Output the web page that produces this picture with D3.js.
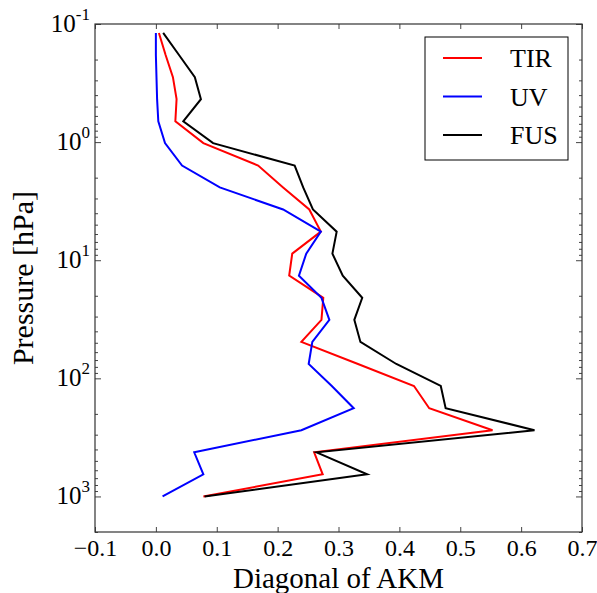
<!DOCTYPE html>
<html>
<head>
<meta charset="utf-8">
<script src="https://cdn.jsdelivr.net/npm/d3@7"></script>
<style>
  body { margin: 0; background: #fff; }
  svg text { font-family: "Liberation Serif", "Times New Roman", Times, serif; fill: #000; }
</style>
</head>
<body>
<div id="chart"></div>
<script>
// pressure levels [hPa], bottom to top
let pressure = [1000, 650, 423, 275, 179, 116, 75.6, 49.2, 32.0, 20.8, 13.5, 8.8, 5.73, 3.72, 2.42, 1.58, 1.02, 0.666, 0.433, 0.282, 0.183, 0.119];

let tir = [0.078, 0.274, 0.260, 0.553, 0.449, 0.424, 0.332, 0.239, 0.272, 0.275, 0.219, 0.224, 0.271, 0.252, 0.209, 0.168, 0.078, 0.032, 0.034, 0.028, 0.016, 0.005];
let uv  = [0.011, 0.078, 0.063, 0.239, 0.325, 0.289, 0.251, 0.257, 0.285, 0.272, 0.235, 0.247, 0.271, 0.209, 0.105, 0.043, 0.015, 0.004, 0.002, 0.001, 0.000, 0.000];
let fus = [0.080, 0.347, 0.264, 0.622, 0.476, 0.468, 0.395, 0.336, 0.326, 0.339, 0.307, 0.290, 0.297, 0.258, 0.242, 0.228, 0.094, 0.045, 0.074, 0.064, 0.038, 0.012];

let seriesNames = ["TIR", "UV", "FUS"];
let seriesColors = ["#ff0000", "#0000ff", "#000000"];

let xTicks = [-0.1, 0.0, 0.1, 0.2, 0.3, 0.4, 0.5, 0.6, 0.7];
let yMajor = [0.1, 1, 10, 100, 1000];

let serif = '"Liberation Serif", "Times New Roman", Times, serif';

let width = 597, height = 593;
let margin = {left: 95, top: 24, right: 15, bottom: 61};
let w = width - margin.left - margin.right;
let h = height - margin.top - margin.bottom;

let x = d3.scaleLinear().domain([-0.1, 0.7]).range([0, w]);
let y = d3.scaleLog().domain([0.1, 2000]).range([0, h]);

let svg = d3.select("#chart").append("svg")
  .attr("width", width)
  .attr("height", height);

let g = svg.append("g")
  .attr("transform", "translate(" + margin.left + "," + margin.top + ")");

// minor ticks on log axis
let minor = [];
for (let d = 0.1; d < 2000; d *= 10) {
  for (let m = 2; m <= 9; m++) {
    let v = d * m;
    if (v <= 2000) minor.push(v);
  }
}

// bottom axis
let xb = g.append("g")
  .attr("transform", "translate(0," + h + ")")
  .call(d3.axisBottom(x).tickValues(xTicks).tickSizeInner(-5).tickSizeOuter(0).tickPadding(7)
    .tickFormat(d => (d < 0 ? "\u2212" : "") + Math.abs(d).toFixed(1)));
xb.selectAll("text")
  .style("font-family", serif)
  .style("font-size", "24px")
  .attr("dy", "0.71em");

// top axis, ticks only
g.append("g")
  .call(d3.axisTop(x).tickValues(xTicks).tickSizeInner(-5).tickSizeOuter(0).tickFormat(""));

// left axis
let yl = g.append("g")
  .call(d3.axisLeft(y).tickValues(yMajor).tickSizeInner(-6).tickSizeOuter(0).tickFormat(""));
yl.selectAll(".tick").each(function(d) {
  let e = Math.round(Math.log10(d));
  let t = d3.select(this).append("text")
    .attr("x", -5)
    .attr("y", 7)
    .attr("text-anchor", "end")
    .style("font-family", serif)
    .style("font-size", "25px");
  t.append("tspan").text("10");
  t.append("tspan")
    .attr("dy", -12)
    .style("font-size", "17px")
    .text(e < 0 ? "-" + Math.abs(e) : e);
});
g.append("g")
  .call(d3.axisLeft(y).tickValues(minor).tickSizeInner(-3).tickSizeOuter(0).tickFormat(""));

// right axis, ticks only
g.append("g")
  .attr("transform", "translate(" + w + ",0)")
  .call(d3.axisRight(y).tickValues(yMajor).tickSizeInner(-6).tickSizeOuter(0).tickFormat(""));
g.append("g")
  .attr("transform", "translate(" + w + ",0)")
  .call(d3.axisRight(y).tickValues(minor).tickSizeInner(-3).tickSizeOuter(0).tickFormat(""));

g.selectAll(".domain").remove();
g.selectAll(".tick line").attr("stroke", "#444");

// frame
g.append("rect")
  .attr("width", w)
  .attr("height", h)
  .attr("fill", "none")
  .attr("stroke", "#333")
  .attr("stroke-width", 1.2);

// lines
let allSeries = [tir, uv, fus];
let line = d3.line()
  .x(d => x(d[0]))
  .y(d => y(d[1]));

allSeries.forEach((s, i) => {
  g.append("path")
    .datum(s.map((v, k) => [v, pressure[k]]))
    .attr("d", line)
    .attr("fill", "none")
    .attr("stroke", seriesColors[i])
    .attr("stroke-width", 2);
});

// legend
let lg = svg.append("g").attr("transform", "translate(425,37)");
lg.append("rect")
  .attr("width", 143)
  .attr("height", 123)
  .attr("fill", "#fff")
  .attr("stroke", "#000")
  .attr("stroke-width", 1);
seriesNames.forEach((n, i) => {
  let yy = 21 + i * 38.5;
  lg.append("line")
    .attr("x1", 18).attr("x2", 57)
    .attr("y1", yy).attr("y2", yy)
    .attr("stroke", seriesColors[i])
    .attr("stroke-width", 2);
  lg.append("text")
    .attr("x", 85)
    .attr("y", yy + 9)
    .style("font-family", serif)
    .style("font-size", "26px")
    .text(n);
});

// axis titles
svg.append("text")
  .attr("x", margin.left + w / 2)
  .attr("y", 588)
  .attr("text-anchor", "middle")
  .style("font-family", serif)
  .style("font-size", "29px")
  .text("Diagonal of AKM");

svg.append("text")
  .attr("transform", "translate(33," + (margin.top + h / 2) + ") rotate(-90)")
  .attr("text-anchor", "middle")
  .style("font-family", serif)
  .style("font-size", "30px")
  .text("Pressure [hPa]");
</script>
</body>
</html>
